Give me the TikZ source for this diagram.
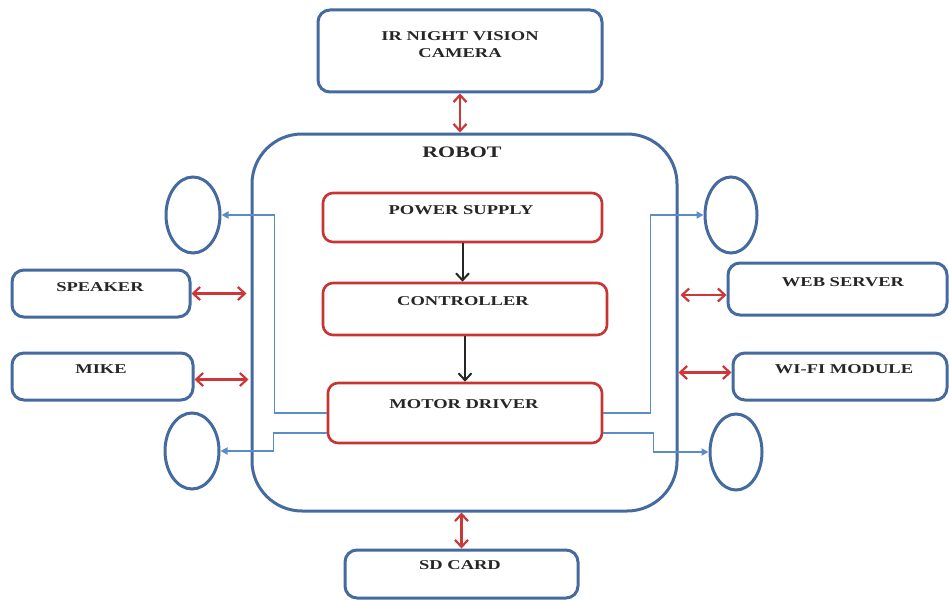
\documentclass[tikz,border=0pt]{standalone}
\usepackage{fontspec}
\newfontfamily\lab[FakeStretch=1.37]{Liberation Serif}
\usetikzlibrary{arrows.meta,shapes.geometric}
\definecolor{boxblue}{RGB}{68,106,160}
\definecolor{boxred}{RGB}{200,52,52}
\definecolor{arrred}{RGB}{205,55,55}
\definecolor{lineblue}{RGB}{90,140,200}
\begin{document}
\begin{tikzpicture}[x=1pt,y=-1pt,
  bbox/.style={draw=boxblue, line width=3pt, rounded corners=12pt, inner sep=0pt},
  rbox/.style={draw=boxred, line width=2.6pt, rounded corners=10pt, inner sep=0pt},
  ell/.style={ellipse, draw=boxblue, line width=3pt, inner sep=0pt, minimum width=54pt, minimum height=76pt},
  txt/.style={font=\lab\bfseries\fontsize{13.5}{17}\selectfont, inner sep=0pt, text=black!85},
  redarr/.style={draw=arrred, line width=2.2pt, {Straight Barb[length=7pt,width=13pt]}-{Straight Barb[length=7pt,width=13pt]}},
  blu/.style={draw=lineblue, line width=1.8pt, -{Triangle[length=7pt,width=7pt]}},
  blk/.style={draw=black!85, line width=2pt, -{Straight Barb[length=7pt,width=13pt]}}]
\useasboundingbox (0,0) rectangle (949,599);
\fill[white] (0,0) rectangle (949,599);

% boxes
\node[bbox, minimum width=284pt, minimum height=82pt] (cam) at (460,51) {};
\node[bbox, rounded corners=50pt, minimum width=425pt, minimum height=377pt] (robot) at (464.5,322.5) {};
\node[rbox, minimum width=279pt, minimum height=49pt] (ps) at (462.5,217.5) {};
\node[rbox, minimum width=284pt, minimum height=52pt] (ctrl) at (465,309) {};
\node[rbox, minimum width=274pt, minimum height=60pt] (md) at (465,413) {};
\node[bbox, minimum width=178pt, minimum height=47pt] (spk) at (101,293.5) {};
\node[bbox, minimum width=181pt, minimum height=47pt] (mike) at (102.5,376.5) {};
\node[bbox, minimum width=219pt, minimum height=52pt] (web) at (837.5,289) {};
\node[bbox, minimum width=214pt, minimum height=47pt] (wifi) at (840,376.5) {};
\node[bbox, minimum width=233pt, minimum height=48pt] (sd) at (461.5,574) {};

% wheels
\node[ell] (lt) at (193,215) {};
\node[ell] (lb) at (192,451) {};
\node[ell, minimum width=52pt] (rt) at (731,215) {};
\node[ell, minimum width=52pt] (rb) at (736,452) {};

% texts
\node[txt, align=center] (camT) at (460,45) {IR NIGHT VISION\\CAMERA};
\node[txt, font=\lab\bfseries\fontsize{16}{19}\selectfont] (robotT) at (462,152) {ROBOT};
\node[txt] (psT) at (461,210) {POWER SUPPLY};
\node[txt] (ctrlT) at (463,301) {CONTROLLER};
\node[txt] (mdT) at (464,404) {MOTOR DRIVER};
\node[txt] (spkT) at (100,287) {SPEAKER};
\node[txt] (mikeT) at (101,369) {MIKE};
\node[txt] (webT) at (843,282) {WEB SERVER};
\node[txt] (wifiT) at (844,369) {WI-FI MODULE};
\node[txt] (sdT) at (460,565) {SD CARD};

% anchor points for side arrows
\coordinate (mikeA) at ([yshift=-3pt]mike.east);
\coordinate (webA) at ([yshift=-6pt]web.west);
\coordinate (wifiA) at ([yshift=4pt]wifi.west);

% red bidirectional arrows
\draw[redarr] (cam.south) -- (cam.south |- robot.north);
\draw[redarr] (sd.north) -- (sd.north |- robot.south);
\draw[redarr, shorten >=4pt] (spk.east) -- (robot.west |- spk.east);
\draw[redarr, shorten >=2pt] (mikeA) -- (robot.west |- mikeA);
\draw[redarr, shorten >=2pt] (webA) -- (robot.east |- webA);
\draw[redarr] (wifiA) -- (robot.east |- wifiA);

% black flow arrows
\draw[blk] (ps.south) -- (ps.south |- ctrl.north);
\draw[blk] (ctrl.south) -- (ctrl.south |- md.north);

% motor lines
\draw[blu] (md.west) -| ([xshift=53pt]lt.east) -- (lt.east);
\draw[blu] ([yshift=-20pt]md.west) -| ([xshift=53pt]lb.east) -- (lb.east);
\draw[blu] (md.east) -| ([xshift=-53pt]rt.west) -- (rt.west);
\draw[blu] ([yshift=-20pt]md.east) -| ([xshift=-55pt]rb.west) -- (rb.west);
\end{tikzpicture}
\end{document}
